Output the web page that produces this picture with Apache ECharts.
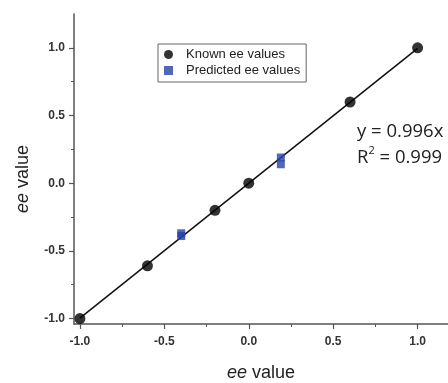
<!DOCTYPE html>
<html>
<head>
<meta charset="utf-8">
<script src="https://cdn.jsdelivr.net/npm/echarts@6/dist/echarts.min.js"></script>
<style>
    html, body { margin: 0; padding: 0; background: #fff; }
    #chart { width: 448px; height: 383px; }
</style>
</head>
<body>
<div id="chart"></div>
<script>
var knownX = [-1.0, -0.6, -0.2, 0.0, 0.6, 1.0];
var knownY = [-1.0, -0.61, -0.2, 0.0, 0.6, 1.0];
var predX = [-0.40, -0.40, 0.19, 0.19];
var predY = [-0.37, -0.39, 0.19, 0.14];
var fitX = [-1.0, 1.0];
var slope = 0.996;
var majorTicks = [-1.0, -0.5, 0.0, 0.5, 1.0];
var minorTicks = [-0.75, -0.25, 0.25, 0.75];
var fitLabel = 'y = 0.996x';
var r2Label = 'R{sup|2} = 0.999';

var known = knownX.map(function (x, i) { return [x, knownY[i]]; });
var pred = predX.map(function (x, i) { return [x, predY[i]]; });
var fit = fitX.map(function (x) { return [x, slope * x]; });

var axisColor = '#555';
var fmt = function (v) { return v.toFixed(1); };

var chart = echarts.init(document.getElementById('chart'));
var option = {
    backgroundColor: '#fff',
    animation: false,
    grid: {
        left: 74,
        right: 0,
        top: 14,
        bottom: 59,
        containLabel: false,
        outerBoundsMode: 'none'
    },
    legend: {
        orient: 'vertical',
        left: 158,
        top: 44,
        padding: [4, 6, 5, 6],
        itemGap: 3,
        itemWidth: 9,
        itemHeight: 9,
        borderColor: '#666',
        borderWidth: 1,
        data: ['Known ee values', 'Predicted ee values'],
        textStyle: {
            fontFamily: 'Liberation Sans',
            fontSize: 13,
            color: '#222',
            padding: [0, 0, 0, 8]
        }
    },
    xAxis: [{
        type: 'value',
        min: -1.035,
        max: 1.18,
        name: '{i|ee} value',
        nameLocation: 'middle',
        nameGap: 40,
        nameTextStyle: {
            fontFamily: 'Liberation Sans',
            fontSize: 18,
            color: '#222',
            rich: { i: { fontStyle: 'italic', fontFamily: 'Liberation Sans', fontSize: 18, color: '#222' } }
        },
        splitLine: { show: false },
        axisLine: { show: true, onZero: false, lineStyle: { color: axisColor, width: 1.5 } },
        axisTick: { show: true, customValues: majorTicks, length: 5, lineStyle: { color: axisColor, width: 1.2 } },
        axisLabel: {
            customValues: majorTicks,
            formatter: fmt,
            margin: 12,
            fontFamily: 'Liberation Sans',
            fontWeight: 'bold',
            fontSize: 12,
            color: '#333'
        }
    }, {
        type: 'value',
        position: 'bottom',
        min: -1.035,
        max: 1.18,
        splitLine: { show: false },
        axisLine: { show: false, onZero: false },
        axisLabel: { show: false },
        axisTick: { show: true, customValues: minorTicks, length: 3, lineStyle: { color: axisColor, width: 1 } }
    }],
    yAxis: [{
        type: 'value',
        min: -1.04,
        max: 1.25,
        name: '{i|ee} value',
        nameLocation: 'middle',
        nameGap: 42,
        nameTextStyle: {
            fontFamily: 'Liberation Sans',
            fontSize: 18,
            color: '#222',
            padding: [0, 20, 0, 0],
            rich: { i: { fontStyle: 'italic', fontFamily: 'Liberation Sans', fontSize: 18, color: '#222' } }
        },
        splitLine: { show: false },
        axisLine: { show: true, onZero: false, lineStyle: { color: axisColor, width: 1.5 } },
        axisTick: { show: true, customValues: majorTicks, length: 5, lineStyle: { color: axisColor, width: 1.2 } },
        axisLabel: {
            customValues: majorTicks,
            formatter: fmt,
            margin: 9,
            fontFamily: 'Liberation Sans',
            fontWeight: 'bold',
            fontSize: 12,
            color: '#333'
        }
    }, {
        type: 'value',
        position: 'left',
        min: -1.04,
        max: 1.25,
        splitLine: { show: false },
        axisLine: { show: false, onZero: false },
        axisLabel: { show: false },
        axisTick: { show: true, customValues: minorTicks, length: 3, lineStyle: { color: axisColor, width: 1 } }
    }],
    graphic: [{
        type: 'text',
        left: 357,
        top: 119,
        style: {
            text: fitLabel + '\n' + r2Label,
            font: '18.5px "Open Sans"',
            fill: '#222',
            lineHeight: 26,
            rich: {
                sup: { fontSize: 11, verticalAlign: 'top', padding: [0, 0, 7, 0], fill: '#222', fontFamily: 'Open Sans' }
            }
        }
    }],
    series: [
        {
            name: 'fit',
            type: 'line',
            data: fit,
            symbol: 'none',
            lineStyle: { color: '#111', width: 1.5 },
            z: 1
        },
        {
            name: 'Known ee values',
            type: 'scatter',
            data: known,
            symbol: 'circle',
            symbolSize: 11,
            itemStyle: { color: '#000' },
            z: 3
        },
        {
            name: 'Predicted ee values',
            type: 'scatter',
            data: pred,
            symbol: 'rect',
            symbolSize: 8,
            itemStyle: { color: '#2442a6' },
            z: 2
        }
    ]
};
chart.setOption(option);
</script>
</body>
</html>
